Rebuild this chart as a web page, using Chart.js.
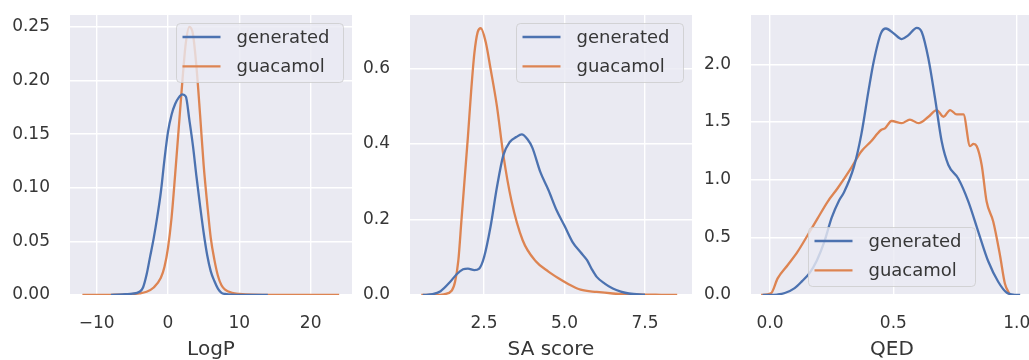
<!DOCTYPE html>
<html><head><meta charset="utf-8">
<script src="https://cdn.jsdelivr.net/npm/chart.js@4.4.0/dist/chart.umd.min.js"></script>
<style>
html,body{margin:0;padding:0;background:#fff;overflow:hidden;width:1029px;height:360px;position:relative}
canvas{position:absolute;top:0}
</style></head><body>
<canvas id="c1" width="352" height="360" style="left:0px"></canvas>
<canvas id="c2" width="352" height="360" style="left:340px"></canvas>
<canvas id="c3" width="352" height="360" style="left:681px"></canvas>
<script>
// ---------- data ----------
const SERIES = ['generated', 'guacamol'];

// LogP
const LOGP_GEN_X = [-8,-6,-5,-4,-3.5,-3,-2.5,-2,-1.5,-1,-0.5,0,0.5,1,1.5,2,2.5,3,3.5,4,4.5,5,5.5,6,6.5,7,7.5,8,9,11,14];
const LOGP_GEN_Y = [0,0.0008,0.0012,0.003,0.007,0.019,0.036,0.053,0.073,0.096,0.126,0.152,0.168,0.178,0.184,0.187,0.185,0.163,0.139,0.11,0.083,0.058,0.037,0.022,0.013,0.006,0.002,0.001,0.0003,0.0001,0];
const LOGP_GUA_X = [-12,-10,-8,-6,-4,-3,-2,-1,-0.5,0,0.5,1,1.5,2,2.5,3,3.5,4,4.5,5,5.5,6,6.5,7,7.5,8,9,10,12,16,20,24];
const LOGP_GUA_Y = [0,0.0001,0.0002,0.0005,0.0015,0.003,0.007,0.016,0.026,0.044,0.072,0.112,0.155,0.198,0.235,0.25,0.243,0.212,0.168,0.121,0.085,0.053,0.033,0.018,0.009,0.005,0.002,0.001,0.0003,0.0001,0.00005,0];

// SA score
const SA_GEN_X = [0.6,0.9,1.15,1.45,1.65,1.85,2.0,2.2,2.35,2.5,2.7,2.9,3.1,3.3,3.5,3.67,3.85,4.0,4.25,4.5,4.75,5.0,5.25,5.5,5.7,5.85,6.0,6.25,6.5,6.75,7.0,7.5];
const SA_GEN_Y = [0,0.002,0.01,0.035,0.055,0.068,0.07,0.066,0.07,0.1,0.18,0.285,0.37,0.405,0.418,0.425,0.412,0.39,0.325,0.278,0.225,0.183,0.14,0.113,0.092,0.068,0.048,0.03,0.017,0.009,0.004,0.001];
const SA_GUA_X = [0.55,1.0,1.25,1.5,1.6,1.7,1.8,1.9,2.0,2.1,2.2,2.3,2.4,2.55,2.7,2.9,3.1,3.35,3.7,4.1,4.5,4.8,5.1,5.5,6.0,6.5,7.0,7.5,8.0,8.5];
const SA_GUA_Y = [0,0,0.002,0.012,0.035,0.09,0.2,0.31,0.42,0.54,0.64,0.695,0.706,0.67,0.6,0.5,0.37,0.25,0.145,0.09,0.062,0.045,0.03,0.014,0.008,0.004,0.002,0.001,0.0005,0];

// QED
const QED_GEN_X = [-0.03,0.0,0.03,0.06,0.1,0.13,0.16,0.19,0.22,0.25,0.28,0.3,0.34,0.37,0.4,0.42,0.45,0.47,0.5,0.534,0.56,0.595,0.615,0.642,0.669,0.696,0.723,0.763,0.804,0.844,0.885,0.925,0.96,1.006,1.014];
const QED_GEN_Y = [0,0,0.004,0.017,0.06,0.12,0.19,0.3,0.46,0.67,0.82,0.89,1.11,1.39,1.78,2.02,2.27,2.31,2.27,2.218,2.25,2.316,2.28,2.05,1.705,1.33,1.127,1.01,0.81,0.55,0.29,0.115,0.02,0,0];
const QED_GUA_X = [-0.036,0.004,0.031,0.072,0.112,0.153,0.193,0.234,0.274,0.328,0.369,0.409,0.45,0.466,0.493,0.534,0.567,0.602,0.642,0.676,0.703,0.73,0.757,0.784,0.811,0.825,0.838,0.858,0.878,0.905,0.932,0.952,0.973];
const QED_GUA_Y = [0,0.015,0.144,0.26,0.376,0.52,0.664,0.81,0.925,1.098,1.242,1.33,1.43,1.444,1.508,1.49,1.52,1.49,1.545,1.603,1.545,1.603,1.565,1.565,1.29,1.31,1.29,1.127,0.81,0.635,0.347,0.1,0];

// axis ticks and labels
const LOGP_XTICKS = [-10, 0, 10, 20];
const LOGP_XLABELS = ['\u221210', '0', '10', '20'];
const LOGP_YTICKS = [0, 0.05, 0.1, 0.15, 0.2, 0.25];
const LOGP_YLABELS = ['0.00', '0.05', '0.10', '0.15', '0.20', '0.25'];
const SA_XTICKS = [2.5, 5, 7.5];
const SA_XLABELS = ['2.5', '5.0', '7.5'];
const SA_YTICKS = [0, 0.2, 0.4, 0.6];
const SA_YLABELS = ['0.0', '0.2', '0.4', '0.6'];
const QED_XTICKS = [0, 0.5, 1];
const QED_XLABELS = ['0.0', '0.5', '1.0'];
const QED_YTICKS = [0, 0.5, 1, 1.5, 2];
const QED_YLABELS = ['0.0', '0.5', '1.0', '1.5', '2.0'];

const AXIS_TITLES = ['LogP', 'SA score', 'QED'];

// ---------- styling ----------
const BLUE = '#4c72b0', ORANGE = '#dd8452', TEXT = '#363636';
Chart.defaults.font.family = "'DejaVu Sans', sans-serif";

const bgPlugin = {
  id: 'sbBg',
  beforeDraw(chart) {
    const {ctx, chartArea: a} = chart;
    ctx.save();
    ctx.fillStyle = '#eaeaf2';
    ctx.fillRect(a.left, a.top, a.right - a.left, a.bottom - a.top);
    ctx.restore();
  }
};

function rr(ctx, x, y, w, h, r) {
  ctx.beginPath();
  ctx.moveTo(x + r, y);
  ctx.lineTo(x + w - r, y); ctx.arcTo(x + w, y, x + w, y + r, r);
  ctx.lineTo(x + w, y + h - r); ctx.arcTo(x + w, y + h, x + w - r, y + h, r);
  ctx.lineTo(x + r, y + h); ctx.arcTo(x, y + h, x, y + h - r, r);
  ctx.lineTo(x, y + r); ctx.arcTo(x, y, x + r, y, r);
  ctx.closePath();
}

const legendPlugin = {
  id: 'sbLegend',
  afterDatasetsDraw(chart, args, opts) {
    const {ctx, chartArea: a} = chart;
    const w = 167, h = 59, m = 8.5;
    let x, y;
    if (opts.loc === 'lower center') { x = (a.left + a.right) / 2 - w / 2; y = a.bottom - m - h; }
    else { x = a.right - m - w; y = a.top + m; }
    ctx.save();
    rr(ctx, x, y, w, h, 4);
    ctx.fillStyle = 'rgba(234,234,242,0.8)';
    ctx.fill();
    ctx.strokeStyle = 'rgba(204,204,204,0.8)';
    ctx.lineWidth = 1;
    ctx.stroke();
    chart.data.datasets.forEach((ds, i) => {
      const ry = y + 13.5 + i * 29.4;
      ctx.beginPath();
      ctx.moveTo(x + 6, ry); ctx.lineTo(x + 44, ry);
      ctx.strokeStyle = ds.borderColor; ctx.lineWidth = 2.4; ctx.stroke();
      ctx.fillStyle = TEXT;
      ctx.font = "18px 'DejaVu Sans'";
      ctx.textBaseline = 'middle'; ctx.textAlign = 'left';
      ctx.fillText(ds.label, x + 60, ry + 1);
    });
    ctx.restore();
  }
};

function zip(xs, ys) { return xs.map((x, i) => ({x: x, y: ys[i]})); }

function ticksFrom(values) {
  return axis => { axis.ticks = values.map(v => ({value: v})); };
}

function makeChart(id, c) {
  const tickFont = {size: 17};
  new Chart(document.getElementById(id), {
    type: 'line',
    data: {
      datasets: [
        {label: SERIES[0], data: zip(c.gx, c.gy), borderColor: BLUE},
        {label: SERIES[1], data: zip(c.ox, c.oy), borderColor: ORANGE}
      ]
    },
    options: {
      responsive: false, animation: false, devicePixelRatio: 1,
      layout: {padding: {top: 15, left: 0, right: 0, bottom: 0}},
      elements: {
        point: {radius: 0},
        line: {borderWidth: 2.3, cubicInterpolationMode: 'monotone', fill: false}
      },
      plugins: {legend: {display: false}, tooltip: {enabled: false}, sbLegend: {loc: c.loc}},
      scales: {
        x: {
          type: 'linear', min: c.xmin, max: c.xmax,
          afterBuildTicks: ticksFrom(c.xt),
          afterFit: s => { s.height = 65; s.paddingLeft = 0; s.paddingRight = 0; },
          grid: {color: '#ffffff', lineWidth: 1.4, drawTicks: false},
          border: {display: false},
          ticks: {padding: 18, color: TEXT, font: tickFont, maxRotation: 0, autoSkip: false,
                  callback: (v, i) => c.xl[i]},
          title: {display: true, text: c.title, color: TEXT, font: {size: 20, lineHeight: 1},
                  padding: {top: 0, bottom: 0}}
        },
        y: {
          type: 'linear', min: 0, max: c.ymax,
          afterBuildTicks: ticksFrom(c.yt),
          afterFit: s => { s.width = 70; s.paddingTop = 0; s.paddingBottom = 0; },
          grid: {color: '#ffffff', lineWidth: 1.4, drawTicks: false},
          border: {display: false},
          ticks: {padding: 20, color: TEXT, font: tickFont, autoSkip: false,
                  callback: (v, i) => c.yl[i]}
        }
      }
    },
    plugins: [bgPlugin, legendPlugin]
  });
}

makeChart('c1', {gx: LOGP_GEN_X, gy: LOGP_GEN_Y, ox: LOGP_GUA_X, oy: LOGP_GUA_Y,
  xmin: -13.74, xmax: 25.8, ymax: 0.261, xt: LOGP_XTICKS, xl: LOGP_XLABELS,
  yt: LOGP_YTICKS, yl: LOGP_YLABELS, title: AXIS_TITLES[0], loc: 'upper right'});
makeChart('c2', {gx: SA_GEN_X, gy: SA_GEN_Y, ox: SA_GUA_X, oy: SA_GUA_Y,
  xmin: 0.2, xmax: 8.96, ymax: 0.741, xt: SA_XTICKS, xl: SA_XLABELS,
  yt: SA_YTICKS, yl: SA_YLABELS, title: AXIS_TITLES[1], loc: 'upper right'});
makeChart('c3', {gx: QED_GEN_X, gy: QED_GEN_Y, ox: QED_GUA_X, oy: QED_GUA_Y,
  xmin: -0.077, xmax: 1.066, ymax: 2.427, xt: QED_XTICKS, xl: QED_XLABELS,
  yt: QED_YTICKS, yl: QED_YLABELS, title: AXIS_TITLES[2], loc: 'lower center'});
</script>
</body></html>
